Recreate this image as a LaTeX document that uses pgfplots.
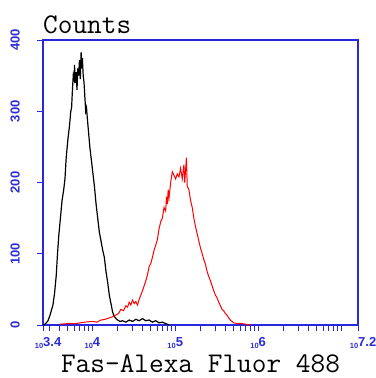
\documentclass[border=0pt]{standalone}
\usepackage{pgfplots}
\pgfplotsset{compat=1.18}
\usepackage{fontspec}
\newfontfamily\monof{Latin Modern Mono}
\newfontfamily\labf{Liberation Sans}
\definecolor{axblue}{RGB}{40,40,225}
\definecolor{lblblue}{RGB}{45,45,215}
\newcommand{\xl}[1]{\llap{\fontsize{7.5}{7.5}\selectfont 10}\raisebox{1.5pt}{\fontsize{13}{13}\selectfont #1}}
\begin{document}
\begin{tikzpicture}
\begin{axis}[
  scale only axis, width=315pt, height=285pt,
  xmin=3.4, xmax=7.2, ymin=0, ymax=400,
  axis line style={axblue, line width=1.2pt},
  tick align=outside, major tick length=6pt, minor tick length=6pt,
  tick style={axblue, line width=0.9pt},
  xtick={3.4,4,5,6,7.2},
  xticklabels={\xl{3.4},\xl{4},\xl{5},\xl{6},\xl{7.2}},
  minor xtick={3.477,3.602,3.699,3.778,3.845,3.903,3.954,
    4.301,4.477,4.602,4.699,4.778,4.845,4.903,4.954,
    5.301,5.477,5.602,5.699,5.778,5.845,5.903,5.954,
    6.301,6.477,6.602,6.699,6.778,6.845,6.903,6.954,7},
  xticklabel style={font=\labf\bfseries, text=lblblue, anchor=north west, inner sep=0pt, yshift=-6.5pt},
  ytick={0,100,200,300,400},
  yticklabels={0,100,200,300,400},
  yticklabel style={font=\labf\bfseries\fontsize{13}{13}\selectfont, text=lblblue, xshift=-17pt, rotate=90, anchor=south, inner sep=0pt},
  xtick pos=bottom, ytick pos=left,
  xlabel={Fas-Alexa Fluor 488},
  xlabel style={font=\monof\fontsize{28.5}{28.5}\selectfont, anchor=base, at={(axis description cs:0.5,0)}, yshift=-47.5pt},
  clip=false,
]
\addplot[black, line width=1.2pt] coordinates {
(3.40,0) (3.42,1) (3.44,3) (3.46,6) (3.48,12) (3.50,20) (3.52,28) (3.54,45) (3.56,70) (3.575,100)
(3.59,125) (3.61,150) (3.63,175) (3.65,190) (3.665,205) (3.68,235) (3.70,260) (3.72,280) (3.735,300)
(3.745,305) (3.755,330) (3.765,350) (3.775,345) (3.78,365) (3.79,340) (3.80,355) (3.81,330) (3.82,360)
(3.83,350) (3.84,372) (3.85,345) (3.86,383) (3.865,360) (3.875,375) (3.885,350) (3.895,340) (3.905,320)
(3.915,300) (3.925,305) (3.935,290) (3.95,270) (3.965,250) (3.98,235) (4.00,215) (4.02,195) (4.04,170)
(4.06,150) (4.08,130) (4.10,118) (4.12,105) (4.14,95) (4.16,75) (4.18,60) (4.20,42) (4.22,30) (4.24,18)
(4.26,12) (4.28,9) (4.30,7) (4.33,5) (4.36,6) (4.40,4) (4.44,7) (4.48,5) (4.52,8) (4.56,6) (4.60,9)
(4.64,6) (4.68,7) (4.72,4) (4.76,6) (4.80,3) (4.84,4) (4.88,2) (4.92,0)
};
\addplot[red, line width=1pt] coordinates {
(3.60,1) (3.70,2) (3.80,2) (3.90,4) (4.00,5) (4.05,4) (4.10,7) (4.15,8) (4.20,10) (4.25,12) (4.28,14)
(4.31,16) (4.34,22) (4.37,20) (4.40,27) (4.42,25) (4.44,32) (4.46,28) (4.48,35) (4.50,30) (4.52,33)
(4.54,28) (4.56,36) (4.58,42) (4.60,48) (4.62,55) (4.64,62) (4.66,70) (4.68,82) (4.70,86) (4.72,95)
(4.74,105) (4.76,112) (4.78,120) (4.80,135) (4.82,145) (4.84,150) (4.86,165) (4.88,160) (4.89,180)
(4.90,170) (4.91,190) (4.92,178) (4.94,200) (4.96,215) (4.98,210) (5.00,205) (5.02,212) (5.04,208)
(5.06,220) (5.08,205) (5.10,225) (5.11,200) (5.13,235) (5.14,195) (5.16,190) (5.18,175) (5.20,165)
(5.22,150) (5.24,138) (5.26,128) (5.28,118) (5.30,108) (5.32,100) (5.34,92) (5.36,85) (5.38,75)
(5.40,68) (5.42,62) (5.44,55) (5.46,48) (5.48,42) (5.50,38) (5.52,32) (5.54,27) (5.56,22) (5.58,20)
(5.60,16) (5.62,14) (5.64,10) (5.66,7) (5.68,5) (5.70,3) (5.75,2) (5.80,2) (5.85,1) (5.90,0)
};
\node[font=\monof\fontsize{28.5}{28.5}\selectfont, anchor=base west, inner sep=0pt] at (rel axis cs:0,1) [yshift=7pt] {Counts};
\end{axis}
\path (current axis.south west) ++(-43pt,-53pt) coordinate (bl);
\path (current axis.north east) ++(18pt,40pt) coordinate (tr);
\pgfresetboundingbox
\useasboundingbox (bl) rectangle (tr);
\end{tikzpicture}
\end{document}
